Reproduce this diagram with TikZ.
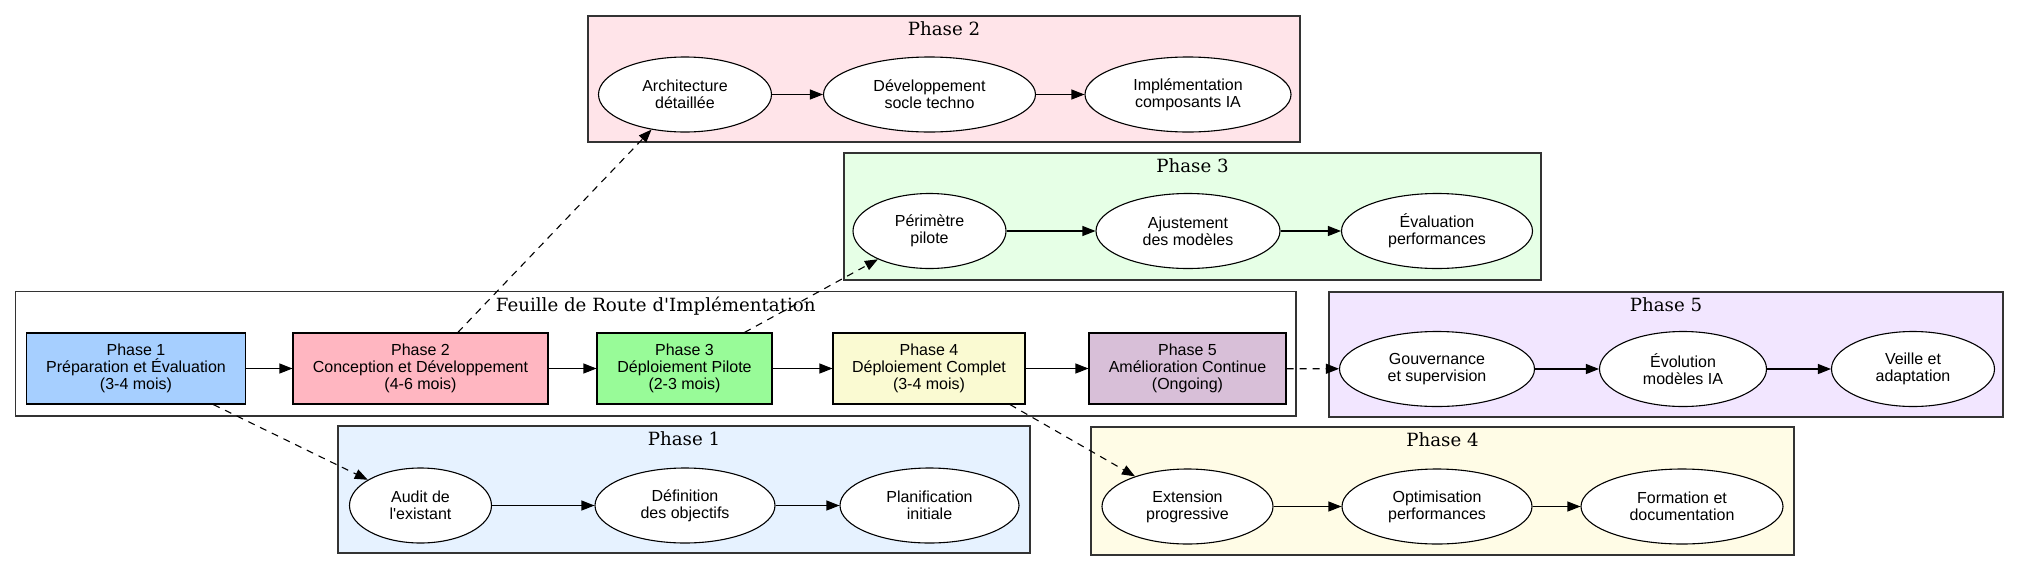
\documentclass[tikz,border=0pt]{standalone}
\usepackage{fontspec}
\newfontfamily\nodefont{Liberation Sans}
\newfontfamily\titlefont{DejaVu Serif}
\usetikzlibrary{shapes.geometric,arrows.meta,calc}
\definecolor{pbA}{HTML}{A6CFFF}
\definecolor{pcA}{HTML}{E6F2FF}
\definecolor{pbB}{HTML}{FFB6C1}
\definecolor{pcB}{HTML}{FFE4E9}
\definecolor{pbC}{HTML}{98FB98}
\definecolor{pcC}{HTML}{E6FFE6}
\definecolor{pbD}{HTML}{FAFAD2}
\definecolor{pcD}{HTML}{FFFCE6}
\definecolor{pbE}{HTML}{D8BFD8}
\definecolor{pcE}{HTML}{F2E6FF}
\begin{document}
\begin{tikzpicture}[x=1pt,y=-1pt,
  phasebox/.style={rectangle, draw=black, line width=1.1pt, inner sep=0pt,
    minimum height=71pt, align=center, font=\nodefont\fontsize{16}{17}\selectfont},
  oval/.style={ellipse, draw=black, fill=white, line width=1.1pt, inner sep=0pt,
    minimum height=75pt, align=center, font=\nodefont\fontsize{16}{17}\selectfont},
  cluster/.style={rectangle, draw=black!80, line width=1.2pt, inner sep=0pt},
  ctitle/.style={anchor=base, inner sep=0pt, font=\titlefont\fontsize{18.2}{20}\selectfont},
  arr/.style={-{Triangle[length=13pt,width=10pt]}, line width=1.1pt},
  darr/.style={arr, dash pattern=on 7pt off 6pt}]
\useasboundingbox (0,0) rectangle (2019,571);

% clusters
\node[cluster, fill=pcB, minimum width=712pt, minimum height=126pt] (cB) at (944,79) {};
\node[cluster, fill=pcC, minimum width=697pt, minimum height=127pt] (cC) at (1192.5,216.5) {};
\node[cluster, fill=white, minimum width=1280.5pt, minimum height=124.5pt] (cM) at (655.75,353.75) {};
\node[cluster, fill=pcE, minimum width=674pt, minimum height=125pt] (cE) at (1666,354.5) {};
\node[cluster, fill=pcA, minimum width=692pt, minimum height=127pt] (cA) at (684,489.5) {};
\node[cluster, fill=pcD, minimum width=703pt, minimum height=128pt] (cD) at (1442.5,491) {};

\node[ctitle] (tB) at ($(cB.north)+(0,20.5)$) {Phase 2};
\node[ctitle] (tC) at ($(cC.north)+(0,20.5)$) {Phase 3};
\node[ctitle] (tM) at ($(cM.north)+(0,20.5)$) {Feuille de Route d'Implémentation};
\node[ctitle] (tE) at ($(cE.north)+(0,20.5)$) {Phase 5};
\node[ctitle] (tA) at ($(cA.north)+(0,20.5)$) {Phase 1};
\node[ctitle] (tD) at ($(cD.north)+(0,20.5)$) {Phase 4};

% main phase boxes
\node[phasebox, fill=pbA, minimum width=219.5pt] (p1) at (136,368.5) {Phase 1\\Préparation et Évaluation\\(3-4 mois)};
\node[phasebox, fill=pbB, minimum width=255pt] (p2) at (420.5,368.5) {Phase 2\\Conception et Développement\\(4-6 mois)};
\node[phasebox, fill=pbC, minimum width=175pt] (p3) at (684.5,368.5) {Phase 3\\Déploiement Pilote\\(2-3 mois)};
\node[phasebox, fill=pbD, minimum width=192pt] (p4) at (929,368.5) {Phase 4\\Déploiement Complet\\(3-4 mois)};
\node[phasebox, fill=pbE, minimum width=197pt] (p5) at (1187.5,368.5) {Phase 5\\Amélioration Continue\\(Ongoing)};

% phase 2 detail
\node[oval, minimum width=173pt] (arch) at (685,94.5) {Architecture\\détaillée};
\node[oval, minimum width=212pt] (dev) at (929.5,94.5) {Développement\\socle techno};
\node[oval, minimum width=206pt] (impl) at (1188,94.5) {Implémentation\\composants IA};

% phase 3 detail
\node[oval, minimum width=153pt] (peri) at (929.5,231) {Périmètre\\pilote};
\node[oval, minimum width=184pt] (ajust) at (1188,231) {Ajustement\\des modèles};
\node[oval, minimum width=191pt] (evalp) at (1437,231) {Évaluation\\performances};

% phase 1 detail
\node[oval, minimum width=142pt] (audit) at (420.5,505.5) {Audit de\\l'existant};
\node[oval, minimum width=180pt] (defin) at (685,505.5) {Définition\\des objectifs};
\node[oval, minimum width=179pt] (planif) at (929.5,505.5) {Planification\\initiale};

% phase 4 detail
\node[oval, minimum width=171pt] (ext) at (1187.5,506.5) {Extension\\progressive};
\node[oval, minimum width=190pt] (optim) at (1437,506.5) {Optimisation\\performances};
\node[oval, minimum width=202pt] (form) at (1682,506.5) {Formation et\\documentation};

% phase 5 detail
\node[oval, minimum width=195pt] (gouv) at (1437,369) {Gouvernance\\et supervision};
\node[oval, minimum width=167pt] (evol) at (1683,369) {Évolution\\modèles IA};
\node[oval, minimum width=163pt] (veille) at (1913,369) {Veille et\\adaptation};

% solid chains
\draw[arr] (p1) -- (p2);
\draw[arr] (p2) -- (p3);
\draw[arr] (p3) -- (p4);
\draw[arr] (p4) -- (p5);
\draw[arr] (arch) -- (dev);
\draw[arr] (dev) -- (impl);
\draw[arr] (peri) -- (ajust);
\draw[arr] (ajust) -- (evalp);
\draw[arr] (audit) -- (defin);
\draw[arr] (defin) -- (planif);
\draw[arr] (ext) -- (optim);
\draw[arr] (optim) -- (form);
\draw[arr] (gouv) -- (evol);
\draw[arr] (evol) -- (veille);

% dashed links
\draw[darr] (p1.-25) -- (audit);
\draw[darr] (p2.44) -- (arch);
\draw[darr] (p3.31.5) -- (peri);
\draw[darr] (p4.-24.5) -- (ext);
\draw[darr] (p5) -- (gouv);
\end{tikzpicture}
\end{document}
